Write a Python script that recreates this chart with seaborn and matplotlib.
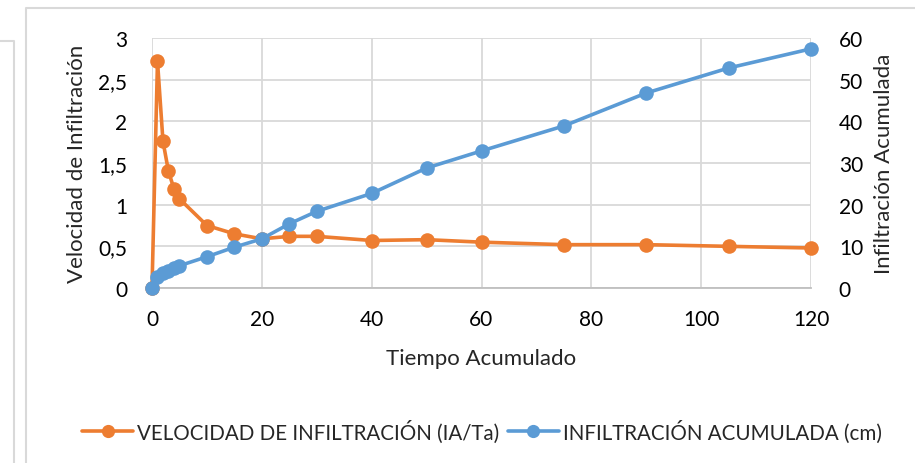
import matplotlib
matplotlib.use("Agg")
import matplotlib.pyplot as plt
import matplotlib.ticker as mticker
from matplotlib.lines import Line2D
import seaborn as sns
import pandas as pd

# Data
tiempo = [0, 1, 2, 3, 4, 5, 10, 15, 20, 25, 30, 40, 50, 60, 75, 90, 105, 120]
velocidad = [0, 2.72, 1.76, 1.40, 1.19, 1.07, 0.75, 0.65, 0.59, 0.62, 0.62,
             0.57, 0.58, 0.55, 0.52, 0.52, 0.50, 0.48]
infiltracion = [0, 2.7, 3.5, 4.2, 4.75, 5.35, 7.5, 9.8, 11.8, 15.4, 18.4,
                22.7, 28.8, 32.9, 38.9, 46.8, 52.8, 57.4]

label_vel = "VELOCIDAD DE INFILTRACIÓN (IA/Ta)"
label_inf = "INFILTRACIÓN ACUMULADA (cm)"
x_ticks = [0, 20, 40, 60, 80, 100, 120]
y_left_ticks = [0, 0.5, 1, 1.5, 2, 2.5, 3]
y_right_ticks = [0, 10, 20, 30, 40, 50, 60]

df = pd.DataFrame({"t": tiempo, "v": velocidad, "i": infiltracion})

sns.set_theme(style="white")
plt.rcParams["font.family"] = ["Lato", "DejaVu Sans"]

ORANGE = "#ED7D31"
BLUE = "#5B9BD5"
GRID = "#D9D9D9"

fig = plt.figure(figsize=(9.15, 4.64), dpi=100)
fig.patch.set_facecolor("white")

# Frames (screenshot chart borders)
fig.add_artist(Line2D([26/915, 26/915, 1], [0, 1 - 9/464, 1 - 9/464],
                      transform=fig.transFigure, color="#D9D9D9", lw=1.5))
fig.add_artist(Line2D([0, 14/915, 14/915], [1 - 42/464, 1 - 42/464, 0],
                      transform=fig.transFigure, color="#D9D9D9", lw=1.5))

ax = fig.add_axes([152/915, 1 - 289/464, (811 - 152)/915, (289 - 39)/464])
ax2 = ax.twinx()

sns.lineplot(data=df, x="t", y="v", ax=ax, color=ORANGE, marker="o",
             markersize=10.5, linewidth=2.6, markeredgewidth=0, clip_on=False)
sns.lineplot(data=df, x="t", y="i", ax=ax2, color=BLUE, marker="o",
             markersize=10.5, linewidth=2.6, markeredgewidth=0, clip_on=False)

ax.set_xlim(0, 120)
ax.set_ylim(0, 3)
ax2.set_ylim(0, 60)
ax.set_xticks(x_ticks)
ax.set_yticks(y_left_ticks)
ax2.set_yticks(y_right_ticks)
ax.yaxis.set_major_formatter(mticker.FuncFormatter(
    lambda v, p: ("%g" % v).replace(".", ",")))

ax.grid(True, color=GRID, lw=1.3)
ax2.grid(False)
ax.set_axisbelow(True)

for a in (ax, ax2):
    for s in a.spines.values():
        s.set_visible(False)
ax.spines["bottom"].set_visible(True)
ax.spines["bottom"].set_color("#BFBFBF")
ax.spines["bottom"].set_linewidth(1.3)

ax.tick_params(axis="y", length=0, labelsize=15, colors="black", pad=18)
ax.tick_params(axis="x", length=0, labelsize=15, colors="black", pad=15)
ax2.tick_params(axis="y", length=0, labelsize=15, colors="black", pad=20)

ax.set_xlabel("Tiempo Acumulado", fontsize=16, labelpad=14)
ax.set_ylabel("Velocidad de Infiltración", fontsize=16, labelpad=8)
ax2.set_ylabel("Infiltración Acumulada", fontsize=16, labelpad=8)

handles = [
    Line2D([], [], color=ORANGE, marker="o", markersize=9.5, lw=2.6, markeredgewidth=0),
    Line2D([], [], color=BLUE, marker="o", markersize=9.5, lw=2.6, markeredgewidth=0),
]
fig.legend(handles, [label_vel, label_inf], loc="center",
           bbox_to_anchor=(482/915, 1 - 432/464), ncol=2, frameon=False,
           fontsize=14.8, handlelength=2.5, handletextpad=0.2, columnspacing=0.4)

fig.savefig("out.png", dpi=100, facecolor="white")
